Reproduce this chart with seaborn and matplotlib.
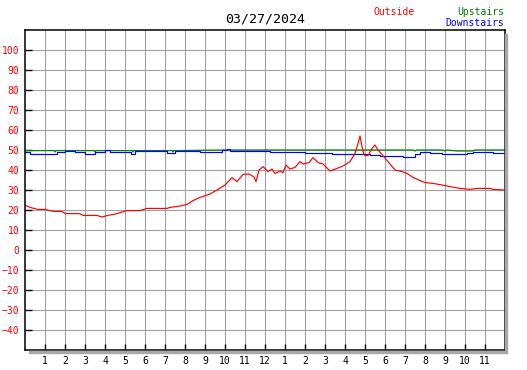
#!/usr/bin/env python3
"""Daily temperature chart: outside / upstairs / downstairs."""

import matplotlib
matplotlib.use("Agg")
import matplotlib.pyplot as plt
from matplotlib.patches import Rectangle
import pandas as pd
import seaborn as sns

TITLE = "03/27/2024"

# hours since midnight
OUT_HOURS = [0, 0.25, 0.65, 1.0, 1.4, 1.85, 2.0, 2.75, 2.9, 3.6, 3.85, 4.1, 4.6,
             5.1, 5.75, 6.1, 7.1, 7.25, 7.75, 8.1, 8.4, 8.75, 9.25, 9.6, 10.0,
             10.35, 10.6, 10.9, 11.2, 11.45, 11.55, 11.7, 11.9, 12.15, 12.35,
             12.5, 12.75, 12.9, 13.05, 13.25, 13.5, 13.75, 13.9, 14.2, 14.4,
             14.65, 14.9, 15.25, 15.6, 15.9, 16.25, 16.5, 16.65, 16.75, 16.85,
             16.95, 17.15, 17.35, 17.5, 17.65, 17.9, 18.15, 18.5, 18.85, 19.1,
             19.4, 19.75, 20.0, 20.4, 20.85, 21.25, 21.75, 22.25, 22.6, 23.25,
             23.4, 23.95]
OUT_TEMPS = [22.5, 21.3, 20.3, 20.3, 19.3, 19.3, 18.2, 18.2, 17.3, 17.3, 16.5,
             17.2, 18.2, 19.7, 19.7, 20.8, 20.8, 21.3, 22.0, 22.8, 24.7, 26.3,
             28.0, 30.0, 32.5, 36.2, 34.2, 37.8, 38.0, 36.5, 34.2, 40.0, 41.7,
             39.2, 40.5, 38.3, 39.5, 38.7, 42.5, 40.5, 41.3, 44.2, 43.0, 43.7,
             46.2, 43.7, 43.0, 39.5, 40.8, 42.0, 44.2, 48.3, 53.3, 57.0, 51.7,
             47.5, 47.2, 50.8, 52.5, 50.0, 47.2, 44.2, 40.0, 39.2, 38.3, 36.3,
             34.7, 33.7, 33.3, 32.5, 31.7, 30.8, 30.3, 30.8, 30.8, 30.3, 30.0]

UP_HOURS = [0, 1.45, 1.5, 1.55, 3.45, 3.5, 3.55, 5.35, 5.4, 5.45, 7.35, 7.4,
            7.45, 10.0, 12.0, 15.0, 19.4, 19.5, 19.6, 20.9, 21.0, 21.1, 21.6,
            22.4, 22.5, 24.0]
UP_TEMPS = [49.7, 49.7, 49.0, 49.7, 49.7, 49.0, 49.7, 49.7, 49.0, 49.7, 49.7,
            49.0, 49.7, 50.0, 50.0, 50.0, 50.0, 49.5, 50.0, 50.0, 49.5, 50.0,
            49.5, 49.5, 50.0, 50.0]

DOWN_HOURS = [0, 0.25, 1.6, 2.0, 2.5, 3.0, 3.5, 4.0, 4.25, 5.3, 5.5, 6.1, 7.1,
              7.5, 8.35, 8.75, 9.85, 10.1, 10.25, 11.15, 12.25, 14.0, 14.1,
              15.35, 17.25, 17.75, 18.9, 19.5, 19.75, 20.25, 20.85, 22.1, 22.4,
              23.4, 24.0]
DOWN_TEMPS = [48.8, 48.0, 48.8, 49.5, 48.8, 48.0, 48.8, 50.0, 48.8, 48.0, 49.5,
              49.3, 48.3, 49.7, 49.3, 48.8, 50.0, 50.7, 49.7, 49.3, 48.8, 48.3,
              48.7, 47.8, 47.3, 47.2, 46.7, 48.0, 48.8, 48.3, 47.8, 48.3, 48.8,
              48.3, 48.3]

HOUR_LABELS = [str(h) for h in range(1, 12)] + ["12"] + [str(h) for h in range(1, 12)]
Y_TICKS = list(range(-40, 101, 10))

W, H = 527, 370


def px(x, y):
    return x / W, 1 - y / H


def main() -> None:
    sns.set_style("white")
    plt.rcParams["font.family"] = ["DejaVu Sans Mono", "DejaVu Sans"]

    fig = plt.figure(figsize=(W / 100, H / 100), dpi=100)
    ax = fig.add_axes([25 / W, 20 / H, 480 / W, 320 / H])

    # drop shadow right and bottom of the plot box
    fig.patches.append(Rectangle(px(505, 353), 2 / W, 319 / H,
                                 transform=fig.transFigure, color="#a8a8a8",
                                 zorder=0))
    fig.patches.append(Rectangle(px(29, 353), 478 / W, 2 / H,
                                 transform=fig.transFigure, color="#a8a8a8",
                                 zorder=0))

    up = pd.DataFrame({"hour": UP_HOURS, "temp": UP_TEMPS})
    down = pd.DataFrame({"hour": DOWN_HOURS, "temp": DOWN_TEMPS})
    out = pd.DataFrame({"hour": OUT_HOURS, "temp": OUT_TEMPS})

    sns.lineplot(data=up, x="hour", y="temp", color="#008000", lw=0.85, ax=ax)
    sns.lineplot(data=down, x="hour", y="temp", color="#0000ff", lw=0.85,
                 drawstyle="steps-post", ax=ax)
    sns.lineplot(data=out, x="hour", y="temp", color="#ff0000", lw=0.85, ax=ax)

    ax.set_xlim(0, 24)
    ax.set_ylim(-50, 110)
    ax.set_xticks(range(1, 24))
    ax.set_xticklabels(HOUR_LABELS)
    ax.set_yticks(Y_TICKS)
    ax.set_xlabel("")
    ax.set_ylabel("")
    ax.grid(True, color="#a0a0a0", lw=0.8)
    ax.set_axisbelow(True)
    for s in ax.spines.values():
        s.set_color("black")
        s.set_linewidth(1.1)
    ax.tick_params(axis="both", direction="in", length=4, width=1.0,
                   colors="black", labelsize=7, pad=4)
    ax.tick_params(axis="y", labelcolor="#ff0000", left=True, length=5)
    ax.tick_params(axis="x", bottom=True)

    fig.text(*px(265, 19), TITLE, ha="center", va="center", fontsize=9.5,
             color="black")
    fig.text(*px(373, 12), "Outside", ha="left", va="center", fontsize=7,
             color="#ff0000")
    fig.text(*px(504, 12), "Upstairs", ha="right", va="center", fontsize=7,
             color="#008000")
    fig.text(*px(504, 23), "Downstairs", ha="right", va="center", fontsize=7,
             color="#0000ff")

    fig.savefig("out.png", dpi=100)
    plt.close(fig)


if __name__ == "__main__":
    main()
